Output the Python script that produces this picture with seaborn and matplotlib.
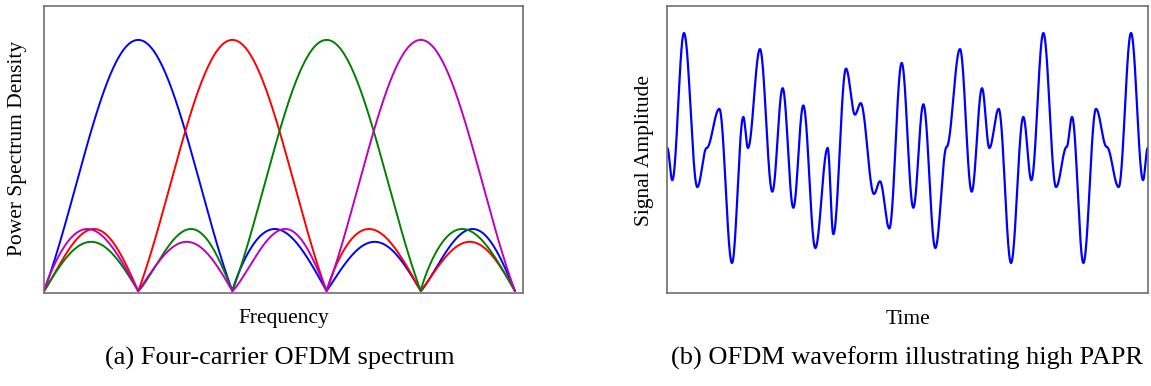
import numpy as np
import pandas as pd
import matplotlib
matplotlib.use("Agg")
import matplotlib.pyplot as plt
import seaborn as sns

# ---------------- data: spectrum lobes (start, end, peak position, peak height) ----------------
carriers = ["blue", "red", "green", "magenta"]
carrier_colors = ["#0000ff", "#ff0000", "#008000", "#bf00bf"]

blue_starts = [0, 2, 3, 4]
blue_ends = [2, 3, 4, 5]
blue_peaks = [1.0, 2.45, 3.51, 4.55]
blue_heights = [1.0, 0.247, 0.196, 0.247]

red_starts = [0, 1, 3, 4]
red_ends = [1, 3, 4, 5]
red_peaks = [0.53, 2.0, 3.45, 4.52]
red_heights = [0.247, 1.0, 0.247, 0.196]

green_starts = [0, 1, 2, 4]
green_ends = [1, 2, 4, 5]
green_peaks = [0.50, 1.56, 3.0, 4.44]
green_heights = [0.196, 0.247, 1.0, 0.247]

magenta_starts = [0, 1, 2, 3]
magenta_ends = [1, 2, 3, 5]
magenta_peaks = [0.46, 1.515, 2.56, 4.0]
magenta_heights = [0.247, 0.196, 0.247, 1.0]

# ---------------- data: OFDM waveform key points (time, amplitude) ----------------
wave_time = [0.0, 1.04, 3.47, 6.25, 8.19, 10.83, 13.46, 15.82, 16.79, 19.29,
             21.86, 24.01, 26.23, 28.31, 30.81, 33.38, 34.56, 37.20, 39.07, 40.25,
             43.03, 44.27, 46.22, 48.79, 51.21, 53.30, 55.79, 58.15, 60.93, 63.36,
             65.51, 67.04, 68.98, 71.55, 74.11, 75.78, 78.28, 80.92, 83.14, 84.25,
             86.61, 89.24, 91.46, 93.96, 96.53, 99.03, 100.0]
wave_amp = [0.0, -0.28, 1.0, -0.34, 0.0, 0.34, -1.0, 0.27, 0.0, 0.86,
            -0.38, 0.52, -0.52, 0.37, -0.87, 0.0, -0.75, 0.69, 0.29, 0.39,
            -0.40, -0.29, -0.70, 0.74, -0.52, 0.38, -0.87, 0.01, 0.86, -0.38,
            0.52, 0.0, 0.34, -1.0, 0.27, -0.28, 1.0, -0.34, 0.01, 0.27,
            -1.0, 0.34, 0.01, -0.34, 1.0, -0.28, 0.0]

# ---------------- rendering helpers ----------------
def lobe_curve(a, b, p, h, n=120):
    s = np.linspace(0, 1, n)
    frac = (p - a) / (b - a)
    k = np.log(0.5) / np.log(frac)
    sw = s ** k
    if b - a > 1.5:  # main lobe: sinc-like arch
        u = (sw - 0.5) * 2
        y = h * np.abs(np.sinc(u))
    else:
        y = h * np.sin(np.pi * sw)
    return a + s * (b - a), y

def carrier_frame(name, starts, ends, peaks, heights):
    xs, ys = [], []
    for a, b, p, h in zip(starts, ends, peaks, heights):
        x, y = lobe_curve(a, b, p, h)
        xs.append(x)
        ys.append(y)
    return pd.DataFrame({"freq": np.concatenate(xs), "psd": np.concatenate(ys), "carrier": name})

def smooth_wave(t, a, per=40):
    t = np.asarray(t, float)
    a = np.asarray(a, float)
    xs, ys = [], []
    for i in range(len(t) - 1):
        s = np.linspace(0, 1, per, endpoint=False)
        xs.append(t[i] + s * (t[i + 1] - t[i]))
        ys.append(a[i] + (a[i + 1] - a[i]) * (1 - np.cos(np.pi * s)) / 2)
    xs.append([t[-1]])
    ys.append([a[-1]])
    return np.concatenate(xs), np.concatenate(ys)

# ---------------- figure ----------------
sns.set_style("white")
plt.rcParams["font.family"] = ["Liberation Serif", "DejaVu Serif"]
plt.rcParams["text.color"] = "black"

fig = plt.figure(figsize=(11.51, 3.86), dpi=100)
ax1 = fig.add_axes([44 / 1151, 1 - 293.3 / 386, 479 / 1151, 287.3 / 386])
ax2 = fig.add_axes([667.3 / 1151, 1 - 293.3 / 386, 480.4 / 1151, 287.3 / 386])

spec_sets = [
    (blue_starts, blue_ends, blue_peaks, blue_heights),
    (red_starts, red_ends, red_peaks, red_heights),
    (green_starts, green_ends, green_peaks, green_heights),
    (magenta_starts, magenta_ends, magenta_peaks, magenta_heights),
]
for name, col, sset in zip(carriers, carrier_colors, spec_sets):
    df = carrier_frame(name, *sset)
    sns.lineplot(data=df, x="freq", y="psd", ax=ax1, color=col, lw=1.4,
                 sort=False, estimator=None)

ax1.set_xlim(0, 5.085)
ax1.set_ylim(-0.009, 1.135)

wx, wy = smooth_wave(wave_time, wave_amp)
wdf = pd.DataFrame({"time": wx, "amp": wy})
sns.lineplot(data=wdf, x="time", y="amp", ax=ax2, color="#0000ff", lw=1.6,
             sort=False, estimator=None)
ax2.set_xlim(0, 100)
ax2.set_ylim(-1.264, 1.235)

for ax in (ax1, ax2):
    ax.set_xticks([])
    ax.set_yticks([])
    for sp in ax.spines.values():
        sp.set_visible(True)
        sp.set_color("#6e6e6e")
        sp.set_linewidth(1.2)
    ax.set_xlabel("")
    ax.set_ylabel("")

fs_lab = 15.5
fs_cap = 19
fig.text(18 / 1151, 1 - 148 / 386, "Power Spectrum Density", rotation=90,
         ha="center", va="center", fontsize=fs_lab, color="black")
fig.text(284 / 1151, 1 - 319 / 386, "Frequency", ha="center", va="center",
         fontsize=fs_lab, color="black")
fig.text(645 / 1151, 1 - 150 / 386, "Signal Amplitude", rotation=90,
         ha="center", va="center", fontsize=fs_lab, color="black")
fig.text(908 / 1151, 1 - 319 / 386, "Time", ha="center", va="center",
         fontsize=fs_lab, color="black")
fig.text(280 / 1151, 1 - 358 / 386, "(a) Four-carrier OFDM spectrum",
         ha="center", va="center", fontsize=fs_cap, color="black")
fig.text(907 / 1151, 1 - 358 / 386, "(b) OFDM waveform illustrating high PAPR",
         ha="center", va="center", fontsize=fs_cap, color="black")

fig.savefig("out.png", dpi=100)
